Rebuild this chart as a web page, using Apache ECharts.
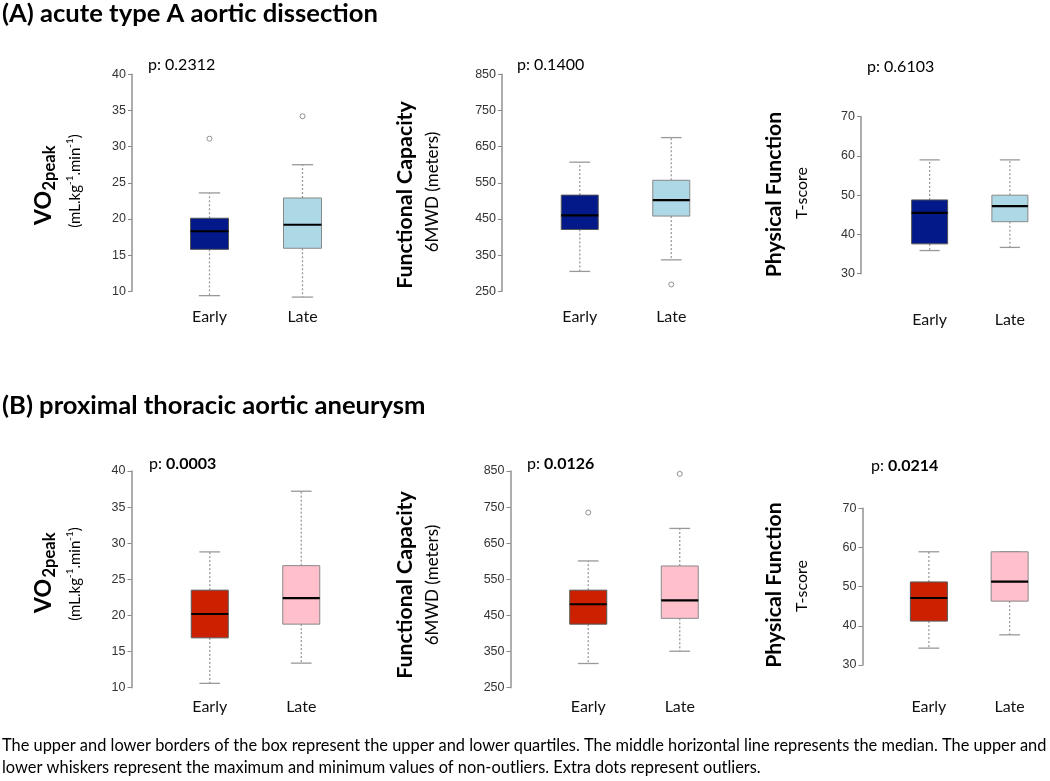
<!DOCTYPE html>
<html>
<head>
<meta charset="utf-8">
<script src="https://cdn.jsdelivr.net/npm/echarts@6/dist/echarts.min.js"></script>
<style>
html,body{margin:0;padding:0;background:#fff;}
#main{width:1050px;height:781px;}
</style>
</head>
<body>
<div id="main"></div>
<script>
// ---------- DATA ----------
const categories = ['Early', 'Late'];
// each box: [min whisker, Q1, median, Q3, max whisker]
const aVo2Boxes = [[9.4, 15.8, 18.3, 20.1, 23.6], [9.2, 15.95, 19.2, 22.9, 27.5]];
const aVo2Outliers = [[0, 31.1], [1, 34.2]];
const aFcBoxes = [[305, 421, 460, 516, 607], [337, 458, 502, 557, 675]];
const aFcOutliers = [[1, 269]];
const aPfBoxes = [[35.9, 37.6, 45.5, 48.8, 59.0], [36.7, 43.25, 47.2, 50.0, 59.0]];
const aPfOutliers = [];
const bVo2Boxes = [[10.6, 16.9, 20.2, 23.5, 28.8], [13.4, 18.8, 22.4, 26.9, 37.2]];
const bVo2Outliers = [];
const bFcBoxes = [[317, 426, 481, 520, 601], [351, 442, 492, 587, 691]];
const bFcOutliers = [[0, 735], [1, 842]];
const bPfBoxes = [[34.3, 41.2, 47.1, 51.2, 58.9], [37.7, 46.3, 51.3, 58.9, 58.9]];
const bPfOutliers = [];

const vo2Ticks = [10, 15, 20, 25, 30, 35, 40];
const fcTicks = [250, 350, 450, 550, 650, 750, 850];
const pfTicks = [30, 40, 50, 60, 70];

const pValuesA = ['0.2312', '0.1400', '0.6103'];
const pValuesB = ['0.0003', '0.0126', '0.0214'];

const titleA = '(A) acute type A aortic dissection';
const titleB = '(B) proximal thoracic aortic aneurysm';
const caption1 = 'The upper and lower borders of the box represent the upper and lower quartiles. The middle horizontal line represents the median. The upper and';
const caption2 = 'lower whiskers represent the maximum and minimum values of non-outliers. Extra dots represent outliers.';

// ---------- LAYOUT ----------
const colA = ['#03198a', '#add8e6'];
const colB = ['#cc2000', '#ffc0cb'];
const TXT = 'Lato, "Open Sans", sans-serif';

const panels = [
  {boxes: aVo2Boxes, out: aVo2Outliers, ticks: vo2Ticks, colors: colA, left: 163, width: 186, top: 74.3, height: 217, offset: 31, bw: 38, lblMargin: 18},
  {boxes: aFcBoxes, out: aFcOutliers, ticks: fcTicks, colors: colA, left: 534, width: 183, top: 74.3, height: 217, offset: 32, bw: 37, lblMargin: 18},
  {boxes: aPfBoxes, out: aPfOutliers, ticks: pfTicks, colors: colA, left: 889.5, width: 177, top: 116.7, height: 157, offset: 28.5, bw: 36, lblMargin: 38},
  {boxes: bVo2Boxes, out: bVo2Outliers, ticks: vo2Ticks, colors: colB, left: 164, width: 183, top: 471, height: 216.7, offset: 32.5, bw: 37, lblMargin: 11},
  {boxes: bFcBoxes, out: bFcOutliers, ticks: fcTicks, colors: colB, left: 542.5, width: 183, top: 471, height: 216.7, offset: 32, bw: 37, lblMargin: 11},
  {boxes: bPfBoxes, out: bPfOutliers, ticks: pfTicks, colors: colB, left: 888.5, width: 181, top: 508.3, height: 156.7, offset: 26, bw: 37, lblMargin: 34}
];

const grids = [], xAxes = [], yAxes = [], series = [];
panels.forEach((p, i) => {
  grids.push({left: p.left, top: p.top, width: p.width, height: p.height});
  xAxes.push({
    type: 'category', gridIndex: i, data: categories, boundaryGap: true,
    axisLine: {show: false}, axisTick: {show: false},
    axisLabel: {margin: p.lblMargin, fontFamily: TXT, fontSize: 16, color: '#111'}
  });
  yAxes.push({
    type: 'value', gridIndex: i, min: p.ticks[0], max: p.ticks[p.ticks.length - 1],
    offset: p.offset, splitLine: {show: false},
    axisLine: {show: true, lineStyle: {color: '#999', width: 1.6}},
    axisTick: {show: true, length: 4, customValues: p.ticks, lineStyle: {color: '#888', width: 1}},
    axisLabel: {customValues: p.ticks, margin: 6, fontFamily: '"Liberation Sans", Arial, sans-serif', fontSize: 12.5, color: '#333'}
  });
  const bw = p.bw, cols = p.colors;
  series.push({
    type: 'custom', xAxisIndex: i, yAxisIndex: i,
    data: p.boxes.map((b, k) => [k].concat(b)),
    encode: {x: 0, y: [1, 2, 3, 4, 5]},
    renderItem: function (params, api) {
      const k = api.value(0);
      const pMin = api.coord([k, api.value(1)]);
      const pQ1 = api.coord([k, api.value(2)]);
      const pMed = api.coord([k, api.value(3)]);
      const pQ3 = api.coord([k, api.value(4)]);
      const pMax = api.coord([k, api.value(5)]);
      const cx = pMed[0];
      const dash = {stroke: '#9a9a9a', lineWidth: 1.3, lineDash: [2, 2]};
      const cap = {stroke: '#999', lineWidth: 1.3};
      return {
        type: 'group',
        children: [
          {type: 'line', shape: {x1: cx, y1: pQ3[1], x2: cx, y2: pMax[1]}, style: dash},
          {type: 'line', shape: {x1: cx, y1: pQ1[1], x2: cx, y2: pMin[1]}, style: dash},
          {type: 'line', shape: {x1: cx - bw * 0.28, y1: pMax[1], x2: cx + bw * 0.28, y2: pMax[1]}, style: cap},
          {type: 'line', shape: {x1: cx - bw * 0.28, y1: pMin[1], x2: cx + bw * 0.28, y2: pMin[1]}, style: cap},
          {type: 'rect', shape: {x: cx - bw / 2, y: pQ3[1], width: bw, height: pQ1[1] - pQ3[1]},
            style: {fill: cols[k], stroke: k === 0 ? '#555' : '#888', lineWidth: 1}},
          {type: 'line', shape: {x1: cx - bw / 2, y1: pMed[1], x2: cx + bw / 2, y2: pMed[1]}, style: {stroke: '#000', lineWidth: 2.2}}
        ]
      };
    }
  });
  series.push({
    type: 'scatter', xAxisIndex: i, yAxisIndex: i, data: p.out,
    symbol: 'circle', symbolSize: 5,
    itemStyle: {color: '#fff', borderColor: '#777', borderWidth: 1}
  });
});

// ---------- TEXT ----------
const graphic = [];
function txt(x, y, text, opts) {
  const o = Object.assign({size: 16, weight: 'normal', align: 'left', valign: 'middle', rot: 0, color: '#000'}, opts || {});
  graphic.push({
    type: 'text', x: x, y: y, rotation: o.rot, silent: true,
    style: Object.assign({
      text: text, fill: o.color,
      font: o.weight + ' ' + o.size + 'px ' + TXT,
      textAlign: o.align, textVerticalAlign: o.valign,
      align: o.align, verticalAlign: o.valign
    }, o.rich ? {rich: o.rich} : {})
  });
}
const R = Math.PI / 2;
txt(2, 14, titleA, {size: 25.6, weight: 'bold'});
txt(2, 406, titleB, {size: 25.6, weight: 'bold'});

// p values
const pPosA = [[148, 65], [517, 65], [867, 67]];
const pPosB = [[149, 464], [527, 464], [871, 466]];
pValuesA.forEach((v, i) => txt(pPosA[i][0], pPosA[i][1], 'p: ' + v, {size: 16}));
pValuesB.forEach((v, i) => txt(pPosB[i][0], pPosB[i][1], '{n|p: }{b|' + v + '}', {
  size: 16,
  rich: {n: {fontSize: 16, fontFamily: TXT, fill: '#000'}, b: {fontSize: 16, fontFamily: TXT, fontWeight: 'bold', fill: '#000'}}
}));

// axis titles
const supRich = {
  n: {fontSize: 15, fontFamily: TXT, fill: '#000', lineHeight: 18, verticalAlign: 'bottom'},
  s: {fontSize: 10, fontFamily: TXT, fill: '#000', lineHeight: 18, verticalAlign: 'top'}
};
const unitText = '{n|(mL.kg}{s|-1}{n|.min}{s|-1}{n|)}';
[0, 1].forEach((r) => {
  const vo = r === 0 ? [44, 208, 50, 168, 74, 181] : [44, 596, 50, 555, 74, 574];
  txt(vo[0], vo[1], 'VO', {size: 23, weight: 'bold', align: 'center', rot: R});
  txt(vo[2], vo[3], '2peak', {size: 16.5, weight: 'bold', align: 'center', rot: R});
  txt(vo[4], vo[5], unitText, {size: 15, align: 'center', rot: R, rich: supRich});
});
txt(405, 195, 'Functional Capacity', {size: 21.3, weight: 'bold', align: 'center', rot: R});
txt(433, 192, '6MWD (meters)', {size: 17, align: 'center', rot: R});
txt(774, 194.5, 'Physical Function', {size: 21.3, weight: 'bold', align: 'center', rot: R});
txt(802, 193, 'T-score', {size: 16, align: 'center', rot: R});
txt(405, 585, 'Functional Capacity', {size: 21.3, weight: 'bold', align: 'center', rot: R});
txt(433, 585, '6MWD (meters)', {size: 17, align: 'center', rot: R});
txt(774, 585, 'Physical Function', {size: 21.3, weight: 'bold', align: 'center', rot: R});
txt(802, 586, 'T-score', {size: 16, align: 'center', rot: R});

// caption
txt(2, 746, caption1, {size: 16.4});
txt(2, 768, caption2, {size: 16.4});

const chart = echarts.init(document.getElementById('main'), null, {renderer: 'canvas'});
chart.setOption({
  animation: false,
  backgroundColor: '#fff',
  grid: grids, xAxis: xAxes, yAxis: yAxes, series: series, graphic: graphic
});
</script>
</body>
</html>
